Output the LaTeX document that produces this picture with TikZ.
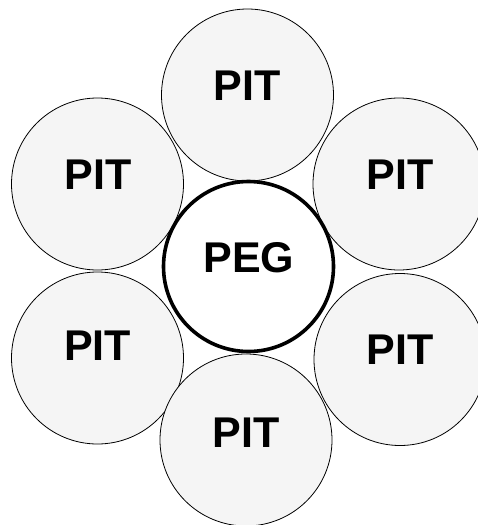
\documentclass[tikz,border=0pt]{standalone}
\usepackage{fontspec}
\setmainfont{Liberation Sans}
\usepackage{tikz}
\usepackage{xcolor}

\definecolor{pitfill}{RGB}{245,245,245}

\begin{document}
\begin{tikzpicture}[x=1pt,y=-1pt,
    pit/.style={circle,draw=black,line width=0.8pt,fill=pitfill,minimum size=172pt,inner sep=0pt},
    peg/.style={circle,draw=black,line width=3.6pt,fill=white,minimum size=170pt,inner sep=0pt},
    word/.style={font=\fontsize{43}{43}\selectfont\bfseries,inner sep=0pt}]
      \useasboundingbox (0,0) rectangle (478,525);
      % ring of pits
      \node [pit] (pittop) at (247.5,95) {};
      \node [pit] (pitlefttop) at (97.5,184) {};
      \node [pit] (pitrighttop) at (399,184) {};
      \node [pit] (pitleftbot) at (97.5,358) {};
      \node [pit] (pitrightbot) at (400,359.5) {};
      \node [pit] (pitbot) at (246,440) {};
      % peg in the middle
      \node [peg] (peg) at (248.5,266.5) {};
      % labels
      \node [word] (pittoptext) at (247,86) {PIT};
      \node [word] (pitlefttoptext) at (98,175) {PIT};
      \node [word] (pitrighttoptext) at (400,175) {PIT};
      \node [word] (pitleftbottext) at (97.5,346) {PIT};
      \node [word] (pitrightbottext) at (400,350) {PIT};
      \node [word] (pitbottext) at (246,433) {PIT};
      \node [word] (pegtext) at (249,258) {PEG};
    \end{tikzpicture}
\end{document}
